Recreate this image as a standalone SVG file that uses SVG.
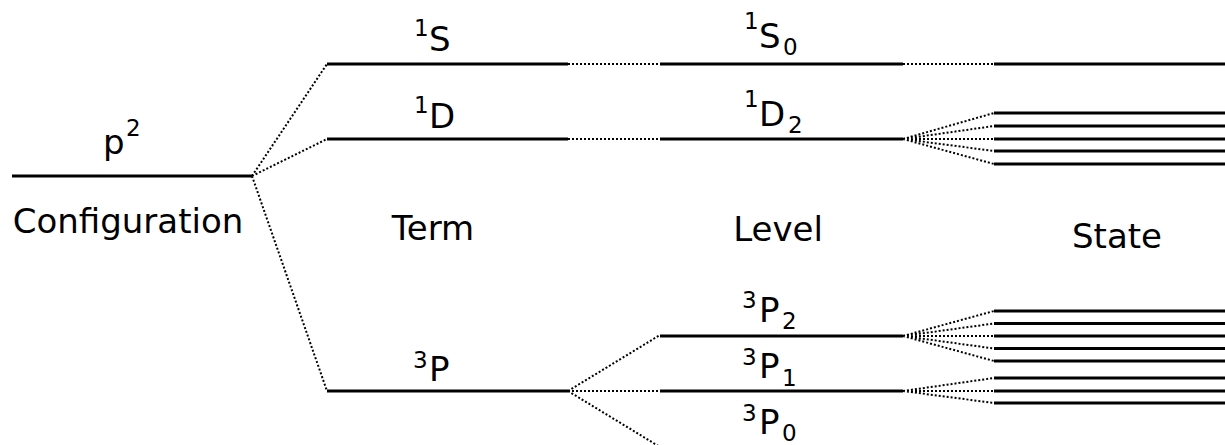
<svg xmlns="http://www.w3.org/2000/svg" width="1225" height="445" viewBox="0 0 1225 445">
<style>
.lvl{stroke:#000;stroke-width:3;fill:none}
.dot{stroke:#000;stroke-width:2;stroke-dasharray:2 2;fill:none}
text{font-family:"DejaVu Sans",sans-serif;fill:#000}
.m{font-size:34px}
.s{font-size:23px}
.c{font-size:34px;text-anchor:middle}
</style>
<rect width="1225" height="445" fill="#fff"/>
<g id="connectors">
<path class="dot" d="M252,176 L327,64 M252,176 L327,139 M252,176 L327,391"/>
<path class="dot" d="M568,64 L660,64 M568,139 L660,139"/>
<path class="dot" d="M568,391 L660,335 M568,391 L660,391 M568,391 L660,447"/>
<path class="dot" d="M903,64 L994,64"/>
<path class="dot" d="M903,139 L994,113 M903,139 L994,126 M903,139 L994,139 M903,139 L994,151 M903,139 L994,164"/>
<path class="dot" d="M903,336 L994,311 M903,336 L994,323.5 M903,336 L994,336 M903,336 L994,348.5 M903,336 L994,361"/>
<path class="dot" d="M903,391 L994,378 M903,391 L994,391 M903,391 L994,403"/>
</g>
<g id="config">
<line class="lvl" x1="12" y1="176" x2="252" y2="176"/>
<text class="m" x="103" y="154">p</text><text class="s" x="126" y="136">2</text>
<text class="c" x="128" y="233">Configuration</text>
</g>
<g id="term-1S">
<line class="lvl" x1="327" y1="64" x2="568" y2="64"/>
<text class="s" x="414" y="36">1</text><text class="m" x="429" y="51">S</text>
</g>
<g id="term-1D">
<line class="lvl" x1="327" y1="139" x2="568" y2="139"/>
<text class="s" x="414" y="113">1</text><text class="m" x="429" y="128">D</text>
</g>
<g id="term-3P">
<line class="lvl" x1="327" y1="391" x2="568" y2="391"/>
<text class="s" x="413" y="368">3</text><text class="m" x="429" y="381">P</text>
</g>
<text id="label-term" class="c" x="433" y="240">Term</text>
<g id="level-1S0">
<line class="lvl" x1="660" y1="64" x2="903" y2="64"/>
<text class="s" x="744" y="29">1</text><text class="m" x="759" y="48">S</text><text class="s" x="783" y="55">0</text>
</g>
<g id="level-1D2">
<line class="lvl" x1="660" y1="139" x2="903" y2="139"/>
<text class="s" x="744" y="107">1</text><text class="m" x="759" y="126">D</text><text class="s" x="788" y="133">2</text>
</g>
<g id="level-3P2">
<line class="lvl" x1="660" y1="336" x2="903" y2="336"/>
<text class="s" x="742" y="308">3</text><text class="m" x="759" y="322">P</text><text class="s" x="782" y="329">2</text>
</g>
<g id="level-3P1">
<line class="lvl" x1="660" y1="391" x2="903" y2="391"/>
<text class="s" x="742" y="365">3</text><text class="m" x="759" y="378">P</text><text class="s" x="782" y="386">1</text>
</g>
<g id="level-3P0">
<line class="lvl" x1="660" y1="447" x2="903" y2="447"/>
<text class="s" x="742" y="421">3</text><text class="m" x="759" y="434">P</text><text class="s" x="782" y="441">0</text>
</g>
<text id="label-level" class="c" x="778" y="241">Level</text>
<g id="states-1S0">
<line class="lvl" x1="994" y1="64" x2="1225" y2="64"/>
</g>
<g id="states-1D2">
<path class="lvl" d="M994,113H1225M994,126H1225M994,139H1225M994,151H1225M994,164H1225"/>
</g>
<g id="states-3P2">
<path class="lvl" d="M994,311H1225M994,323.5H1225M994,336H1225M994,348.5H1225M994,361H1225"/>
</g>
<g id="states-3P1">
<path class="lvl" d="M994,378H1225M994,391H1225M994,403H1225"/>
</g>
<text id="label-state" class="c" x="1117" y="248">State</text>
</svg>
